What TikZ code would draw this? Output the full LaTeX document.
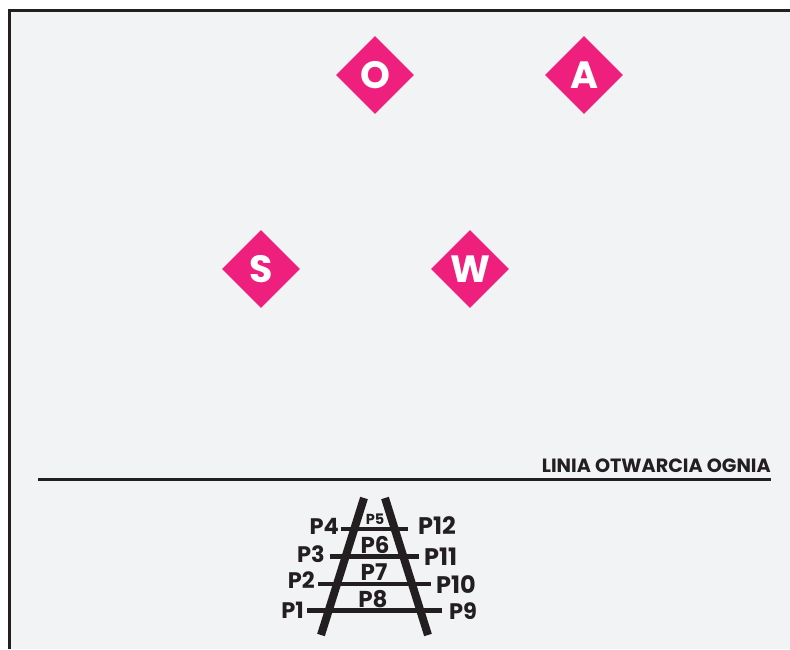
\documentclass[tikz,border=0pt]{standalone}
\usepackage{fontspec}
\setmainfont{Poppins}
\usetikzlibrary{calc,shapes.geometric}

\definecolor{field}{HTML}{F2F3F5}
\definecolor{ink}{HTML}{231F20}
\definecolor{pink}{HTML}{EE1F7D}

\tikzset{
  player/.style={diamond, fill=pink, text=white, inner sep=0pt, minimum width=78pt, minimum height=78pt, font=\bfseries\fontsize{38}{38}\selectfont},
  rail/.style={draw=ink, line width=8pt},
  rung/.style={draw=ink, line width=4.5pt},
  post/.style={inner sep=0pt, text=ink, font=\bfseries\fontsize{22.5}{22.5}\selectfont},
  postwide/.style={post, font=\bfseries\fontsize{24}{24}\selectfont},
  inpost/.style={post, font=\bfseries\fontsize{23}{23}\selectfont}
}

\begin{document}
\begin{tikzpicture}[x=1pt,y=-1pt]
\useasboundingbox (0,0) rectangle (790,649);

\fill[white] (0,0) rectangle (790,649);
\fill[field] (9,10) rectangle (790,649);
\draw[ink, line width=3pt] (9,649) -- (9,10) -- (790,10);

\node (o) [player] at (375,75) {O};
\node (a) [player] at (584,75) {A};
\node (s) [player] at (261,269) {S};
\node (w) [player] at (470,269) {W};

% line
\coordinate (line1) at (38,479.7);
\coordinate (line2) at (771,479.7);
\draw[draw=ink, line width=3pt] (line1) -- (line2);
\node (title) [anchor=south east, inner sep=0pt, text=ink, font=\bfseries\fontsize{19.2}{19.2}\selectfont] at (771,473) {LINIA OTWARCIA OGNIA};

% ladder
\coordinate (lt) at (364,498);
\coordinate (lb) at (321,635);
\coordinate (rt) at (385,498);
\coordinate (rb) at (428,635);
\draw[rail] (lt) -- (lb);
\draw[rail] (rt) -- (rb);

\coordinate (r4a) at (341,529);
\coordinate (r4b) at (408,529);
\coordinate (r3a) at (330,556.7);
\coordinate (r3b) at (419,556.7);
\coordinate (r2a) at (318,584);
\coordinate (r2b) at (431,584);
\coordinate (r1a) at (307,610.7);
\coordinate (r1b) at (442,610.7);
\draw[rung] (r4a) -- (r4b);
\draw[rung] (r3a) -- (r3b);
\draw[rung] (r2a) -- (r2b);
\draw[rung] (r1a) -- (r1b);

\node (p4) [post, anchor=east] at ($(r4a) + (-2,-3)$) {P4};
\node (p3) [post, anchor=east] at ($(r3a) + (-5,-3)$) {P3};
\node (p2) [post, anchor=east] at ($(r2a) + (-3,-4)$) {P2};
\node (p1) [post, anchor=east] at ($(r1a) + (-3,0)$) {P1};
\node (p12) [postwide, anchor=west] at ($(r4b) + (10,-3)$) {P12};
\node (p11) [postwide, anchor=west] at ($(r3b) + (5,0)$) {P11};
\node (p10) [postwide, anchor=west] at ($(r2b) + (5,1)$) {P10};
\node (p9) [post, anchor=west] at ($(r1b) + (7,0)$) {P9};

\node (p5) [post, font=\bfseries\fontsize{14.5}{14.5}\selectfont] at (375,519) {P5};
\node (p6) [inpost] at (375,545) {P6};
\node (p7) [inpost] at (374,572) {P7};
\node (p8) [inpost] at (373,599) {P8};
\end{tikzpicture}
\end{document}
